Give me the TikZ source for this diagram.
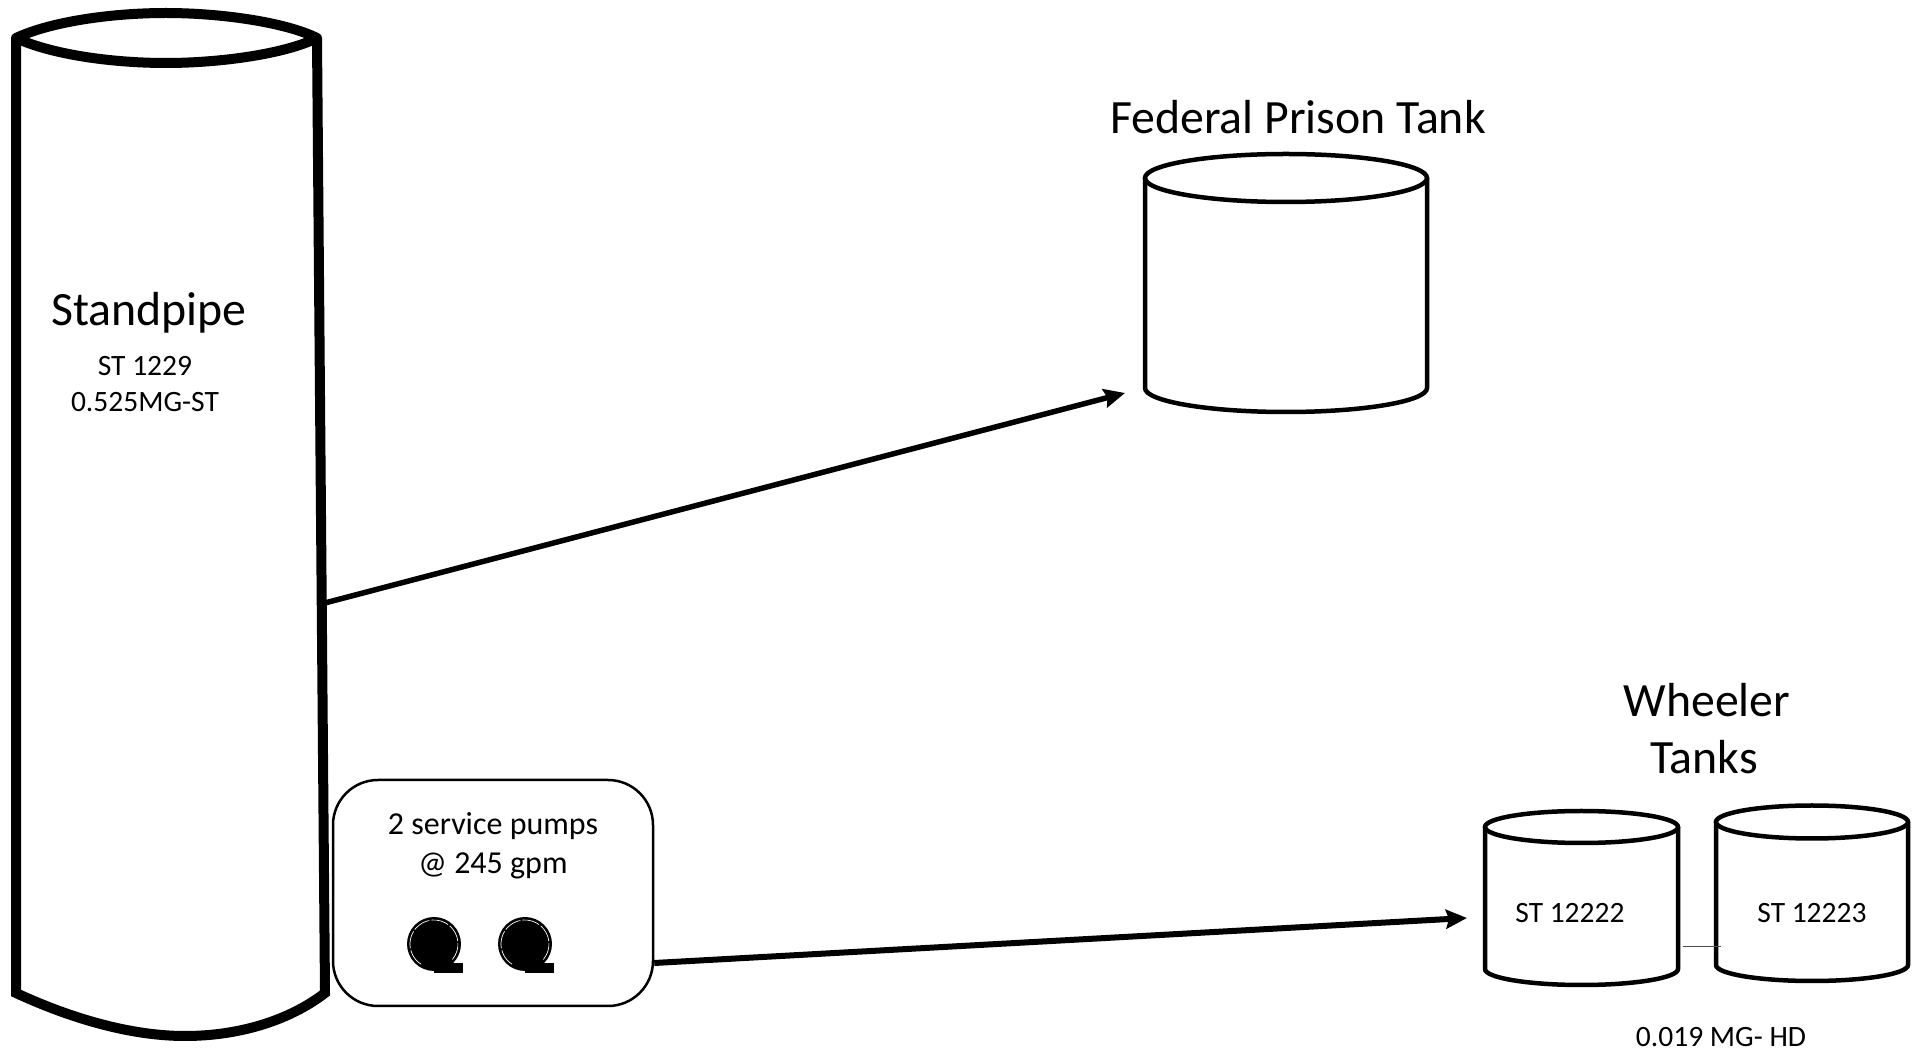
\documentclass[tikz,border=0pt]{standalone}
\usepackage{fontspec}
\setmainfont{Carlito}
\usetikzlibrary{arrows.meta}
\begin{document}
\begin{tikzpicture}[
		every node/.style={align=center, inner sep=0pt},
		tank/.style={draw, line width=0.45mm},
		title/.style={font=\fontsize{13.6}{15}\selectfont},
		small/.style={font=\fontsize{8.4}{10}\selectfont},
		boxtext/.style={font=\fontsize{9.1}{11}\selectfont},
		flow/.style={-{Stealth[length=2.1mm, width=1.9mm, inset=0.3mm]}, line width=0.55mm},
		pump/.style={circle, fill=black, minimum size=0.54cm},
		ring/.style={white, line width=0.07mm, dash pattern=on 5pt off 0.6pt}
	]
		\useasboundingbox (0, 0) rectangle (19.21, 10.53);

		% standpipe
		\draw[line width=1mm, line join=round] (0.16, 10.15) .. controls (0.5, 10.31) and (1.1, 10.40) .. (1.66, 10.40)
			.. controls (2.2, 10.40) and (2.85, 10.31) .. (3.17, 10.15)
			.. controls (2.85, 9.99) and (2.2, 9.90) .. (1.66, 9.90)
			.. controls (1.1, 9.90) and (0.5, 9.99) .. (0.16, 10.15) -- cycle;
		\draw[line width=1mm] (0.16, 10.15) -- (0.16, 0.60)
			.. controls (0.7, 0.35) and (1.3, 0.17) .. (1.85, 0.17)
			.. controls (2.4, 0.17) and (2.9, 0.33) .. (3.25, 0.60) -- (3.17, 10.15);
		\node[title] (standpipe) at (1.49, 7.40) {Standpipe};
		\node[small] (stnum) at (1.45, 6.87) {ST 1229};
		\node[small] (stsize) at (1.45, 6.51) {0.525MG-ST};
		\coordinate (stout) at (3.21, 4.49);

		% federal prison
		\node[title] (prison) at (12.98, 9.36) {Federal Prison Tank};
		\draw[tank] (12.86, 8.75) ellipse (1.41 and 0.24);
		\draw[tank] (11.45, 8.75) -- (11.45, 6.65) arc (180:360:1.41 and 0.24) -- (14.27, 8.75);
		\coordinate (prisonin) at (11.25, 6.60);

		% pumps
		\node[draw, rounded corners=0.45cm, line width=0.25mm, minimum width=3.2cm, minimum height=2.26cm] (pumpbox) at (4.93, 1.60) {};
		\node[boxtext] (pumpone) at (4.93, 2.27) {2 service pumps};
		\node[boxtext] (pumptwo) at (4.93, 1.87) {@ 245 gpm};
		\node[pump] (pa) at (4.34, 1.09) {};
		\node[pump] (pb) at (5.25, 1.09) {};
		\fill (4.34, 0.80) rectangle (4.63, 0.90);
		\fill (5.25, 0.80) rectangle (5.54, 0.90);
		\draw[ring] (pa.center) ++(-40:0.24) arc (-40:240:0.24);
		\draw[ring] (pb.center) ++(-40:0.24) arc (-40:240:0.24);

		% wheeler
		\node[title] (wheelera) at (17.07, 3.53) {Wheeler};
		\node[title] (wheelerb) at (17.04, 2.96) {Tanks};
		\draw[tank] (15.815, 2.26) ellipse (0.965 and 0.16);
		\draw[tank] (14.85, 2.26) -- (14.85, 0.84) arc (180:360:0.965 and 0.16) -- (16.78, 2.26);
		\draw[tank] (18.12, 2.31) ellipse (0.96 and 0.165);
		\draw[tank] (17.16, 2.31) -- (17.16, 0.88) arc (180:360:0.96 and 0.16) -- (19.08, 2.31);
		\node[small] (tanktexta) at (15.70, 1.40) {ST 12222};
		\node[small] (tanktextb) at (18.12, 1.40) {ST 12223};
		\node[small] (wheelersize) at (17.21, 0.16) {0.019 MG- HD};
		\coordinate (wheelerin) at (14.67, 1.35);
		\coordinate (linka) at (16.83, 1.06);
		\coordinate (linkb) at (17.21, 1.06);

		\draw[flow] (stout) -- (prisonin);
		\draw[flow, line width=0.6mm] (pumpbox.east |- 0, 0.90) -- (wheelerin);
		\draw[line width=0.1mm, black!70] (linka) -- (linkb);
	\end{tikzpicture}
\end{document}
